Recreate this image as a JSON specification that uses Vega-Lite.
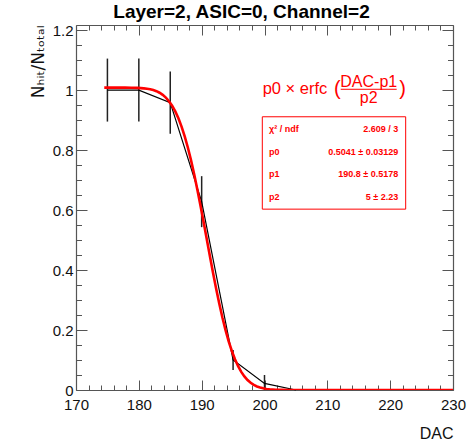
{
  "$schema": "https://vega.github.io/schema/vega-lite/v6.json",
  "width": 377,
  "height": 365,
  "autosize": "none",
  "padding": {"left": 76, "top": 25, "right": 18, "bottom": 51},
  "background": "white",
  "title": {
    "text": "Layer=2, ASIC=0, Channel=2",
    "font": "Liberation Sans",
    "fontSize": 19,
    "fontWeight": "bold",
    "color": "#000000",
    "anchor": "middle",
    "dx": -23,
    "offset": 1
  },
  "config": {
    "view": {"stroke": null},
    "axis": {
      "grid": false,
      "labelFont": "Liberation Sans",
      "labelFontSize": 15,
      "labelColor": "#111111",
      "labelFlush": false,
      "labelOverlap": false,
      "tickColor": "#555555",
      "tickWidth": 1,
      "domainColor": "#555555",
      "domainWidth": 1.2,
      "titleFont": "Liberation Sans",
      "titleFontWeight": "normal",
      "titleColor": "#111111"
    }
  },
  "datasets": {
    "points": [
      {"dac": 175, "n": 1.0, "lo": 0.895, "hi": 1.105},
      {"dac": 180, "n": 1.0, "lo": 0.895, "hi": 1.105},
      {"dac": 185, "n": 0.958, "lo": 0.854, "hi": 1.062},
      {"dac": 190, "n": 0.628, "lo": 0.543, "hi": 0.713},
      {"dac": 195, "n": 0.1, "lo": 0.067, "hi": 0.133},
      {"dac": 200, "n": 0.022, "lo": 0.0, "hi": 0.05},
      {"dac": 205, "n": 0.0, "lo": 0.0, "hi": 0.0}
    ],
    "fit": [
      {"dac": 174.5, "n": 1.0082},
      {"dac": 176.8, "n": 1.0082},
      {"dac": 177.8, "n": 1.0081},
      {"dac": 178.8, "n": 1.0078},
      {"dac": 179.8, "n": 1.0072},
      {"dac": 180.8, "n": 1.0058},
      {"dac": 181.3, "n": 1.0046},
      {"dac": 181.8, "n": 1.0027},
      {"dac": 182.3, "n": 1.0000},
      {"dac": 182.8, "n": 0.9963},
      {"dac": 183.3, "n": 0.9911},
      {"dac": 183.8, "n": 0.9842},
      {"dac": 184.3, "n": 0.9749},
      {"dac": 184.8, "n": 0.9630},
      {"dac": 185.3, "n": 0.9478},
      {"dac": 185.8, "n": 0.9289},
      {"dac": 186.3, "n": 0.9058},
      {"dac": 186.8, "n": 0.8782},
      {"dac": 187.3, "n": 0.8458},
      {"dac": 187.8, "n": 0.8085},
      {"dac": 188.3, "n": 0.7665},
      {"dac": 188.8, "n": 0.7201},
      {"dac": 189.3, "n": 0.6697},
      {"dac": 189.8, "n": 0.6164},
      {"dac": 190.3, "n": 0.5608},
      {"dac": 190.8, "n": 0.5041},
      {"dac": 191.3, "n": 0.4474},
      {"dac": 191.8, "n": 0.3918},
      {"dac": 192.3, "n": 0.3385},
      {"dac": 192.8, "n": 0.2881},
      {"dac": 193.3, "n": 0.2417},
      {"dac": 193.8, "n": 0.1997},
      {"dac": 194.3, "n": 0.1624},
      {"dac": 194.8, "n": 0.1300},
      {"dac": 195.3, "n": 0.1024},
      {"dac": 195.8, "n": 0.0793},
      {"dac": 196.3, "n": 0.0604},
      {"dac": 196.8, "n": 0.0452},
      {"dac": 197.3, "n": 0.0333},
      {"dac": 197.8, "n": 0.0240},
      {"dac": 198.3, "n": 0.0171},
      {"dac": 198.8, "n": 0.0119},
      {"dac": 199.3, "n": 0.0082},
      {"dac": 199.8, "n": 0.0055},
      {"dac": 200.3, "n": 0.0036},
      {"dac": 200.8, "n": 0.0024},
      {"dac": 201.8, "n": 0.0010},
      {"dac": 202.8, "n": 0.0004},
      {"dac": 203.8, "n": 0.0001},
      {"dac": 205.8, "n": 0.0},
      {"dac": 230, "n": 0.0}
    ]
  },
  "layer": [
    {
      "data": {"name": "points"},
      "mark": {"type": "rule", "color": "#222222", "strokeWidth": 1.5},
      "encoding": {
        "x": {
          "field": "dac", "type": "quantitative",
          "scale": {"domain": [170, 230], "nice": false, "zero": false},
          "axis": {
            "orient": "bottom",
            "values": [170, 180, 190, 200, 210, 220, 230],
            "format": "d",
            "tickSize": -10,
            "labelPadding": 17,
            "title": "DAC",
            "titleFontSize": 16,
            "titleAnchor": "end",
            "titleAlign": "right",
            "titleBaseline": "alphabetic",
            "titleX": 377,
            "titleY": 48
          }
        },
        "y": {
          "field": "lo", "type": "quantitative",
          "scale": {"domain": [0, 1.217], "nice": false, "zero": false},
          "axis": {
            "orient": "left",
            "values": [0, 0.2, 0.4, 0.6, 0.8, 1, 1.2],
            "format": "~g",
            "tickSize": -11,
            "labelPadding": 14,
            "title": "Nₕᵢₜ/Nₜₒₜₐₗ",
            "titleFont": "DejaVu Sans",
            "titleFontSize": 17,
            "titleAngle": 270,
            "titleAlign": "right",
            "titleBaseline": "alphabetic",
            "titleX": -33,
            "titleY": 0
          }
        },
        "y2": {"field": "hi"}
      }
    },
    {
      "data": {"name": "points"},
      "mark": {"type": "line", "color": "#000000", "strokeWidth": 1.2},
      "encoding": {
        "x": {
          "field": "dac", "type": "quantitative",
          "axis": {
            "orient": "bottom",
            "values": [172, 174, 176, 178, 182, 184, 186, 188, 192, 194, 196, 198, 202, 204, 206, 208, 212, 214, 216, 218, 222, 224, 226, 228],
            "labels": false, "domain": false, "tickSize": -5, "title": null
          }
        },
        "y": {
          "field": "n", "type": "quantitative",
          "axis": {
            "orient": "left",
            "values": [0.05, 0.1, 0.15, 0.25, 0.3, 0.35, 0.45, 0.5, 0.55, 0.65, 0.7, 0.75, 0.85, 0.9, 0.95, 1.05, 1.1, 1.15],
            "labels": false, "domain": false, "tickSize": -5.5, "title": null
          }
        }
      }
    },
    {
      "data": {"name": "fit"},
      "mark": {"type": "line", "color": "#ff0000", "strokeWidth": 2.6, "clip": true},
      "encoding": {
        "x": {
          "field": "dac", "type": "quantitative",
          "axis": {
            "orient": "top",
            "values": [170, 180, 190, 200, 210, 220, 230],
            "labels": false, "tickSize": -10, "title": null
          }
        },
        "y": {
          "field": "n", "type": "quantitative",
          "axis": {
            "orient": "right",
            "values": [0, 0.2, 0.4, 0.6, 0.8, 1, 1.2],
            "labels": false, "tickSize": -11, "title": null
          }
        }
      }
    },
    {
      "data": {"values": [{}]},
      "mark": {"type": "rect", "fill": "white", "stroke": "#ff0000", "strokeWidth": 1},
      "encoding": {
        "x": {
          "datum": 199.65, "type": "quantitative",
          "axis": {
            "orient": "top",
            "values": [172, 174, 176, 178, 182, 184, 186, 188, 192, 194, 196, 198, 202, 204, 206, 208, 212, 214, 216, 218, 222, 224, 226, 228],
            "labels": false, "domain": false, "tickSize": -5, "title": null
          }
        },
        "x2": {"datum": 222.47},
        "y": {
          "datum": 0.911, "type": "quantitative",
          "axis": {
            "orient": "right",
            "values": [0.05, 0.1, 0.15, 0.25, 0.3, 0.35, 0.45, 0.5, 0.55, 0.65, 0.7, 0.75, 0.85, 0.9, 0.95, 1.05, 1.1, 1.15],
            "labels": false, "domain": false, "tickSize": -5.5, "title": null
          }
        },
        "y2": {"datum": 0.603}
      }
    },
    {
      "data": {"values": [{}]},
      "mark": {
        "type": "text", "text": ["χ² / ndf", "p0", "p1", "p2"],
        "font": "Liberation Sans", "fontSize": 9, "fontWeight": "bold",
        "color": "#ff0000", "align": "left", "baseline": "alphabetic", "lineHeight": 22.8
      },
      "encoding": {
        "x": {"datum": 200.72, "type": "quantitative", "axis": null},
        "y": {"datum": 0.861, "type": "quantitative", "axis": null}
      }
    },
    {
      "data": {"values": [{}]},
      "mark": {
        "type": "text", "text": ["2.609 / 3", "0.5041 ± 0.03129", "190.8 ± 0.5178", "5 ±  2.23"],
        "font": "Liberation Sans", "fontSize": 9, "fontWeight": "bold",
        "color": "#ff0000", "align": "right", "baseline": "alphabetic", "lineHeight": 22.8
      },
      "encoding": {
        "x": {"datum": 221.29, "type": "quantitative", "axis": null},
        "y": {"datum": 0.861, "type": "quantitative", "axis": null}
      }
    },
    {
      "data": {"values": [{}]},
      "mark": {
        "type": "text", "text": "p0 × erfc",
        "font": "Liberation Sans", "fontSize": 16.5,
        "color": "#ff0000", "align": "left", "baseline": "alphabetic"
      },
      "encoding": {
        "x": {"datum": 199.71, "type": "quantitative", "axis": null},
        "y": {"datum": 0.986, "type": "quantitative", "axis": null}
      }
    },
    {
      "data": {"values": [{}]},
      "mark": {
        "type": "text", "text": "(",
        "font": "Liberation Sans", "fontSize": 20,
        "color": "#ff0000", "align": "left", "baseline": "alphabetic"
      },
      "encoding": {
        "x": {"datum": 211.05, "type": "quantitative", "axis": null},
        "y": {"datum": 0.983, "type": "quantitative", "axis": null}
      }
    },
    {
      "data": {"values": [{}]},
      "mark": {
        "type": "text", "text": ")",
        "font": "Liberation Sans", "fontSize": 20,
        "color": "#ff0000", "align": "left", "baseline": "alphabetic"
      },
      "encoding": {
        "x": {"datum": 221.45, "type": "quantitative", "axis": null},
        "y": {"datum": 0.983, "type": "quantitative", "axis": null}
      }
    },
    {
      "data": {"values": [{}]},
      "mark": {
        "type": "text", "text": "DAC-p1",
        "font": "Liberation Sans", "fontSize": 16,
        "color": "#ff0000", "align": "center", "baseline": "alphabetic"
      },
      "encoding": {
        "x": {"datum": 216.59, "type": "quantitative", "axis": null},
        "y": {"datum": 1.01, "type": "quantitative", "axis": null}
      }
    },
    {
      "data": {"values": [{}]},
      "mark": {
        "type": "text", "text": "p2",
        "font": "Liberation Sans", "fontSize": 16,
        "color": "#ff0000", "align": "center", "baseline": "alphabetic"
      },
      "encoding": {
        "x": {"datum": 216.59, "type": "quantitative", "axis": null},
        "y": {"datum": 0.956, "type": "quantitative", "axis": null}
      }
    },
    {
      "data": {"values": [{}]},
      "mark": {"type": "rule", "color": "#ff0000", "strokeWidth": 1},
      "encoding": {
        "x": {"datum": 212.13, "type": "quantitative", "axis": null},
        "x2": {"datum": 221.04},
        "y": {"datum": 1.0027, "type": "quantitative", "axis": null}
      }
    }
  ],
  "resolve": {"axis": {"x": "independent", "y": "independent"}}
}
